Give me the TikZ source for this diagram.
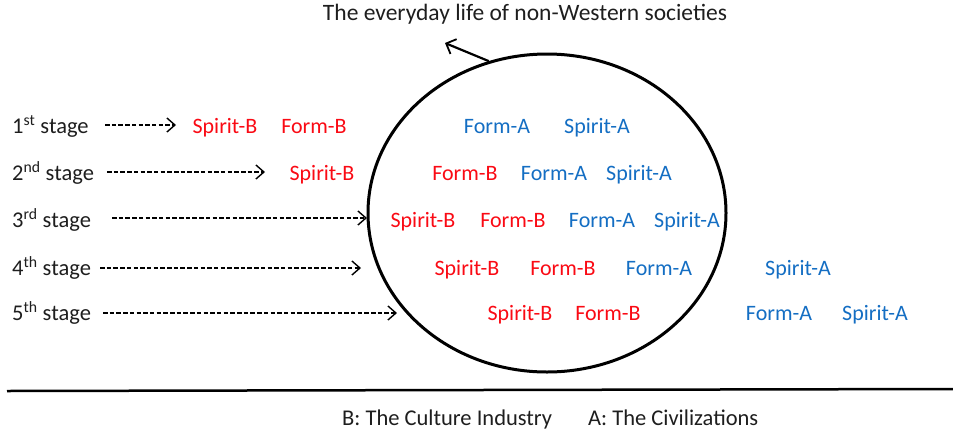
\documentclass[tikz,border=0pt]{standalone}
\usepackage{fontspec}
\setmainfont{Carlito}
\usetikzlibrary{arrows.meta,shapes.geometric}
\definecolor{formred}{RGB}{250,10,20}
\definecolor{formblue}{RGB}{20,110,195}
\definecolor{inkgray}{RGB}{30,30,30}
\tikzset{
  word/.style={anchor=base,inner sep=0pt,font=\fontsize{22}{24}\selectfont},
  wordB/.style={word,text=formred},
  wordA/.style={word,text=formblue},
  stagelab/.style={anchor=base west,inner sep=0pt,text=inkgray,font=\fontsize{22.5}{24}\selectfont},
  flow/.style={line width=1.8pt,dash pattern=on 4.5pt off 2.2pt,-{Straight Barb[length=8pt,width=14pt,line width=1.4pt]}}
}
\begin{document}
\begin{tikzpicture}[x=1pt,y=-1pt]
\useasboundingbox (0,0) rectangle (953,437);
% title and the circle of everyday life
\node[anchor=base,inner sep=0pt,text=inkgray,font=\fontsize{23.5}{26}\selectfont] (life) at (525,20) {The everyday life of non-Western societies};
\node[draw,ellipse,line width=3pt,minimum width=358pt,minimum height=318pt,inner sep=0pt] (circ) at (547,213) {};
\coordinate (lifeTip) at (445,43);
\draw[line width=2.2pt,-{Straight Barb[length=8pt,width=16pt,line width=1.8pt]}] (circ.111) -- (lifeTip);
% stages
\node[stagelab] (s1) at (12,133) {1\textsuperscript{st} stage};
\node[stagelab] (s2) at (12,180) {2\textsuperscript{nd} stage};
\node[stagelab] (s3) at (12,227) {3\textsuperscript{rd} stage};
\node[stagelab] (s4) at (12,275) {4\textsuperscript{th} stage};
\node[stagelab] (s5) at (12,320) {5\textsuperscript{th} stage};
\coordinate (t1) at (176,125);
\coordinate (t2) at (265,172);
\coordinate (t3) at (367,218);
\coordinate (t4) at (361,268);
\coordinate (t5) at (397,313);
\draw[flow] (105,125) -- (t1);
\draw[flow] (107,172) -- (t2);
\draw[flow] (112,218) -- (t3);
\draw[flow] (100,268) -- (t4);
\draw[flow] (103,313) -- (t5);
% 1st stage
\node[wordB] (sb1) at (225,133) {Spirit-B};
\node[wordB] (fb1) at (314,133) {Form-B};
\node[wordA] (fa1) at (497,133) {Form-A};
\node[wordA] (sa1) at (597,133) {Spirit-A};
% 2nd stage
\node[wordB] (sb2) at (322,180) {Spirit-B};
\node[wordB] (fb2) at (465,180) {Form-B};
\node[wordA] (fa2) at (554,180) {Form-A};
\node[wordA] (sa2) at (639,180) {Spirit-A};
% 3rd stage
\node[wordB] (sb3) at (423,227) {Spirit-B};
\node[wordB] (fb3) at (513,227) {Form-B};
\node[wordA] (fa3) at (602,227) {Form-A};
\node[wordA] (sa3) at (687,227) {Spirit-A};
% 4th stage
\node[wordB] (sb4) at (467,275) {Spirit-B};
\node[wordB] (fb4) at (563,275) {Form-B};
\node[wordA] (fa4) at (659,275) {Form-A};
\node[wordA] (sa4) at (798,275) {Spirit-A};
% 5th stage
\node[wordB] (sb5) at (520,320) {Spirit-B};
\node[wordB] (fb5) at (608,320) {Form-B};
\node[wordA] (fa5) at (779,320) {Form-A};
\node[wordA] (sa5) at (875,320) {Spirit-A};
% legend
\coordinate (ruleL) at (7,391);
\coordinate (ruleR) at (953,389);
\draw[line width=2.5pt] (ruleL) -- (ruleR);
\node[anchor=base west,inner sep=0pt,text=inkgray,font=\fontsize{22.5}{24}\selectfont] (legB) at (342,425) {B: The Culture Industry};
\node[anchor=base west,inner sep=0pt,text=inkgray,font=\fontsize{22.5}{24}\selectfont] (legA) at (588,425) {A: The Civilizations};
\end{tikzpicture}
\end{document}
